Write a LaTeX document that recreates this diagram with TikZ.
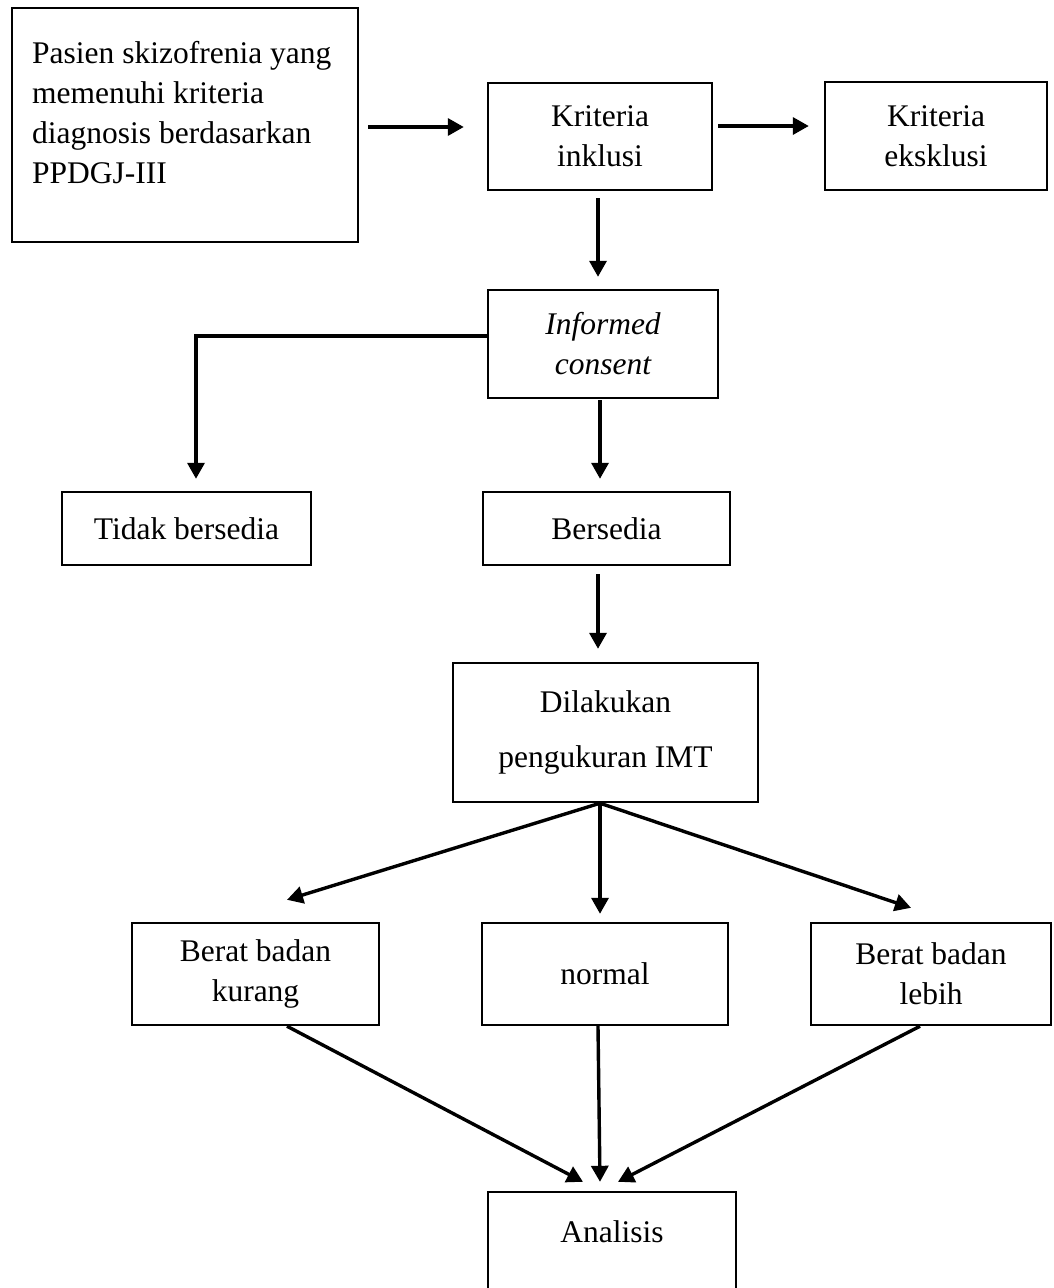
\documentclass[tikz,border=0pt]{standalone}
\usepackage{fontspec}
\setmainfont{Liberation Serif}
\usetikzlibrary{arrows.meta}
\begin{document}
\begin{tikzpicture}[x=1pt,y=-1pt,
  txtfont/.style={font=\fontsize{31.5}{40}\selectfont},
  box/.style={draw, line width=2.4pt, inner sep=0pt, align=center, txtfont},
  arr/.style={line width=3.4pt, -{Triangle[length=16pt,width=17pt]}}]
\useasboundingbox (0,0) rectangle (1054,1288);
% boxes
\node[box, minimum width=346pt, minimum height=234pt] (A) at (185,125) {};
\node[txtfont, inner sep=0pt, align=left, anchor=north west] (Atxt) at (32,41)
  {Pasien skizofrenia yang\\memenuhi kriteria\\diagnosis berdasarkan\\PPDGJ-III};
\node[box, minimum width=224pt, minimum height=107pt] (inkl) at (600,136.5) {Kriteria\\inklusi};
\node[box, minimum width=222pt, minimum height=108pt] (eks) at (936,136) {Kriteria\\eksklusi};
\node[box, minimum width=230pt, minimum height=108pt, font=\fontsize{31.5}{40}\selectfont\itshape] (inf) at (603,344) {Informed\\consent};
\node[box, minimum width=249pt, minimum height=73pt] (tidak) at (186.5,528.5) {Tidak bersedia};
\node[box, minimum width=247pt, minimum height=73pt] (bers) at (606.5,528.5) {Bersedia};
\node[box, minimum width=305pt, minimum height=139pt] (dil) at (605.5,732.5) {Dilakukan\\[15pt]pengukuran IMT};
\node[box, minimum width=247pt, minimum height=102pt] (kur) at (255.5,974) {Berat badan\\kurang};
\node[box, minimum width=246pt, minimum height=102pt] (norm) at (605,974) {normal};
\node[box, minimum width=240pt, minimum height=102pt] (leb) at (931,974) {Berat badan\\lebih};
\node[box, minimum width=248pt, minimum height=108pt, text height=21pt, text depth=29pt] (ana) at (612,1246) {Analisis};
% connectors
\draw[arr, shorten <=9pt, shorten >=23pt] ([yshift=-2pt]A.east) -- ([yshift=-2pt]A.east -| inkl.west);
\draw[arr, shorten <=5pt, shorten >=15pt] ([yshift=10.5pt]inkl.east) -- ([yshift=10.5pt]inkl.east -| eks.west);
\draw[arr, shorten <=7pt, shorten >=12pt] ([xshift=-2pt]inkl.south) -- ([xshift=-2pt]inkl.south |- inf.north);
\draw[arr, shorten >=12pt] ([yshift=8pt]inf.west) -| ([xshift=9.5pt]tidak.north);
\draw[arr, shorten <=1pt, shorten >=12pt] ([xshift=-3pt]inf.south) -- ([xshift=-3pt]inf.south |- bers.north);
\draw[arr, shorten <=8pt, shorten >=13pt] ([xshift=-8.5pt]bers.south) -- ([xshift=-8.5pt]bers.south |- dil.north);
\coordinate (ds) at ([xshift=-5.5pt]dil.south);
\draw[arr] (ds) -- ([xshift=31.5pt,yshift=22pt]kur.north);
\draw[arr] (ds) -- ([xshift=-5pt,yshift=8pt]norm.north);
\draw[arr] (ds) -- ([xshift=-20pt,yshift=14pt]leb.north);
\draw[arr] ([xshift=31.5pt]kur.south) -- ([xshift=-29pt,yshift=9pt]ana.north);
\draw[arr] ([xshift=-7pt]norm.south) -- ([xshift=-12pt,yshift=9pt]ana.north);
\draw[arr] ([xshift=-11pt]leb.south) -- ([xshift=6pt,yshift=9pt]ana.north);
\end{tikzpicture}
\end{document}
